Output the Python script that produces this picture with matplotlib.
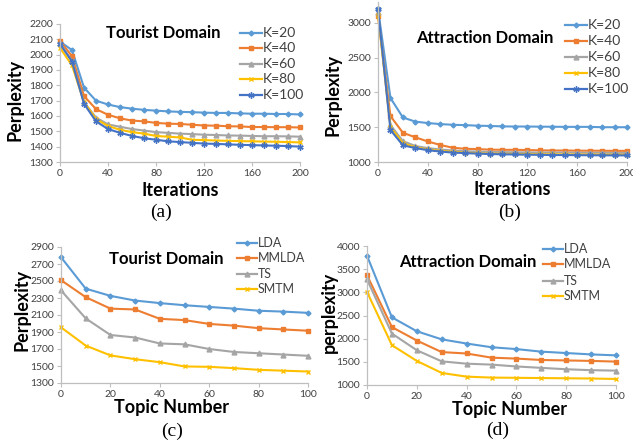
import matplotlib
matplotlib.use("Agg")
import matplotlib.pyplot as plt

plt.rcParams["font.family"] = ["Lato", "DejaVu Sans"]

W, H = 633, 445

iterations = list(range(0, 201, 10))
topics = list(range(0, 101, 10))

k_labels = ["K=20", "K=40", "K=60", "K=80", "K=100"]
tour_k20 = [2085, 2030, 1785, 1700, 1675, 1658, 1648, 1640, 1635, 1630, 1627, 1625, 1622, 1620, 1620, 1617, 1615, 1615, 1613, 1613, 1610]
tour_k40 = [2090, 1990, 1730, 1645, 1608, 1585, 1570, 1565, 1555, 1550, 1548, 1543, 1538, 1537, 1533, 1532, 1528, 1528, 1527, 1527, 1525]
tour_k60 = [2075, 1960, 1690, 1590, 1545, 1530, 1515, 1505, 1495, 1490, 1485, 1482, 1478, 1476, 1473, 1472, 1470, 1468, 1468, 1467, 1465]
tour_k80 = [2045, 1930, 1690, 1580, 1535, 1510, 1495, 1485, 1470, 1465, 1460, 1445, 1443, 1440, 1438, 1436, 1435, 1433, 1432, 1430, 1428]
tour_k100 = [2070, 1955, 1680, 1565, 1515, 1490, 1470, 1455, 1445, 1435, 1430, 1425, 1420, 1418, 1415, 1412, 1410, 1408, 1406, 1404, 1400]

attr_k20 = [3200, 1920, 1640, 1580, 1560, 1545, 1535, 1530, 1522, 1518, 1512, 1510, 1510, 1508, 1507, 1505, 1505, 1505, 1500, 1500, 1500]
attr_k40 = [3100, 1660, 1420, 1355, 1295, 1245, 1205, 1190, 1185, 1178, 1175, 1175, 1172, 1168, 1165, 1165, 1163, 1162, 1162, 1160, 1160]
attr_k60 = [3150, 1530, 1300, 1230, 1200, 1180, 1165, 1155, 1150, 1145, 1142, 1140, 1138, 1136, 1135, 1135, 1133, 1132, 1132, 1130, 1130]
attr_k80 = [3120, 1500, 1270, 1210, 1180, 1160, 1145, 1135, 1125, 1120, 1118, 1115, 1113, 1110, 1110, 1108, 1107, 1106, 1105, 1105, 1103]
attr_k100 = [3200, 1460, 1240, 1200, 1170, 1150, 1135, 1128, 1120, 1115, 1110, 1108, 1105, 1103, 1100, 1100, 1098, 1097, 1096, 1095, 1095]

model_labels = ["LDA", "MMLDA", "TS", "SMTM"]
tour_lda = [2780, 2410, 2325, 2270, 2240, 2215, 2195, 2175, 2150, 2140, 2125]
tour_mmlda = [2510, 2310, 2175, 2165, 2055, 2040, 1995, 1975, 1945, 1930, 1915]
tour_ts = [2390, 2060, 1865, 1835, 1765, 1755, 1700, 1665, 1650, 1635, 1620]
tour_smtm = [1955, 1740, 1625, 1580, 1545, 1495, 1490, 1475, 1455, 1445, 1435]

attr_lda = [3790, 2460, 2160, 1985, 1895, 1815, 1775, 1720, 1690, 1660, 1640]
attr_mmlda = [3370, 2250, 1960, 1710, 1680, 1590, 1570, 1540, 1530, 1520, 1505]
attr_ts = [3280, 2110, 1750, 1510, 1460, 1440, 1400, 1370, 1340, 1320, 1310]
attr_smtm = [3010, 1860, 1520, 1260, 1180, 1160, 1155, 1150, 1145, 1140, 1130]

BLUE, ORANGE, GRAY, YELLOW, DBLUE = "#5B9BD5", "#ED7D31", "#A5A5A5", "#FFC000", "#4472C4"
k_colors = [BLUE, ORANGE, GRAY, YELLOW, DBLUE]
k_markers = ["D", "s", "^", "x", (6, 2, 0)]
k_msizes = [2.5, 3.5, 3.5, 3.5, 4.5]

fig = plt.figure(figsize=(W / 100, H / 100), dpi=100)
fig.patch.set_facecolor("white")


def px_axes(l, r, t, b):
    return fig.add_axes([l / W, 1 - b / H, (r - l) / W, (b - t) / H])


def fx(x):
    return x / W


def fy(y):
    return 1 - y / H


def style(ax):
    for s in ["top", "right"]:
        ax.spines[s].set_visible(False)
    for s in ["left", "bottom"]:
        ax.spines[s].set_color("#BFBFBF")
        ax.spines[s].set_linewidth(0.9)
    ax.tick_params(axis="both", length=3, width=0.8, color="#BFBFBF", labelsize=7.5,
                   labelcolor="#404040", pad=2)


def legend(labels, colors, markers, msizes, x0, ys, fs=10, linelen=22):
    for lab, c, m, ms, y in zip(labels, colors, markers, msizes, ys):
        fig.add_artist(plt.Line2D([fx(x0), fx(x0 + linelen)], [fy(y), fy(y)], color=c, lw=1.6))
        fig.add_artist(plt.Line2D([fx(x0 + linelen / 2)], [fy(y)], color=c, marker=m,
                                  markersize=ms, markeredgewidth=1.0, lw=0))
        fig.text(fx(x0 + linelen + 1), fy(y), lab, fontsize=fs, va="center", ha="left",
                 color="#404040")


def series(ax, xs, ys_list, colors, markers, msizes):
    for vals, c, m, ms in zip(ys_list, colors, markers, msizes):
        ax.plot(xs, vals, color=c, lw=1.5, marker=m, markersize=ms, markeredgewidth=1.0,
                clip_on=False)


LBL = 13

# (a)
ax = px_axes(60, 300, 24, 162)
series(ax, iterations, [tour_k20, tour_k40, tour_k60, tour_k80, tour_k100], k_colors, k_markers, k_msizes)
ax.set_xlim(0, 200)
ax.set_ylim(1300, 2200)
ax.set_xticks(range(0, 201, 40))
ax.set_yticks(range(1300, 2201, 100))
style(ax)
fig.text(fx(163), fy(33), "Tourist Domain", fontsize=12, fontweight="bold", ha="center", va="center")
legend(k_labels, k_colors, k_markers, k_msizes, 240, [33, 48, 64, 79, 95])
fig.text(fx(15), fy(100), "Perplexity", fontsize=LBL, fontweight="bold", rotation=90, ha="center", va="center")
fig.text(fx(180), fy(191), "Iterations", fontsize=LBL, fontweight="bold", ha="center", va="center")
fig.text(fx(161), fy(212), "(a)", fontsize=14, family="Liberation Serif", ha="center", va="center")

# (b)
ax = px_axes(378, 627, 2, 162)
series(ax, iterations, [attr_k20, attr_k40, attr_k60, attr_k80, attr_k100], k_colors, k_markers, k_msizes)
ax.set_xlim(0, 200)
ax.set_ylim(1000, 3300)
ax.set_xticks(range(0, 201, 40))
ax.set_yticks(range(1000, 3001, 500))
style(ax)
fig.text(fx(485), fy(38), "Attraction Domain", fontsize=12, fontweight="bold", ha="center", va="center")
legend(k_labels, k_colors, k_markers, k_msizes, 565, [25, 41, 57, 73, 89])
fig.text(fx(333), fy(95), "Perplexity", fontsize=LBL, fontweight="bold", rotation=90, ha="center", va="center")
fig.text(fx(512), fy(190), "Iterations", fontsize=LBL, fontweight="bold", ha="center", va="center")
fig.text(fx(510), fy(212), "(b)", fontsize=14, family="Liberation Serif", ha="center", va="center")

m_colors = [BLUE, ORANGE, GRAY, YELLOW]
m_markers = ["D", "s", "^", "x"]
m_msizes = [2.5, 3.5, 3.5, 3.5]

# (c)
ax = px_axes(61, 308, 247, 383)
series(ax, topics, [tour_lda, tour_mmlda, tour_ts, tour_smtm], m_colors, m_markers, m_msizes)
ax.set_xlim(0, 100)
ax.set_ylim(1300, 2900)
ax.set_xticks(range(0, 101, 20))
ax.set_yticks(range(1300, 2901, 200))
style(ax)
fig.text(fx(166), fy(259), "Tourist Domain", fontsize=12, fontweight="bold", ha="center", va="center")
legend(model_labels, m_colors, m_markers, m_msizes, 237, [243, 258, 274, 289], fs=9, linelen=20)
fig.text(fx(22), fy(310), "Perplexity", fontsize=LBL, fontweight="bold", rotation=90, ha="center", va="center")
fig.text(fx(172), fy(408), "Topic Number", fontsize=LBL, fontweight="bold", ha="center", va="center")
fig.text(fx(172), fy(431), "(c)", fontsize=14, family="Liberation Serif", ha="center", va="center")

# (d)
ax = px_axes(367, 616, 246, 385)
series(ax, topics, [attr_lda, attr_mmlda, attr_ts, attr_smtm], m_colors, m_markers, m_msizes)
ax.set_xlim(0, 100)
ax.set_ylim(1000, 4000)
ax.set_xticks(range(0, 101, 20))
ax.set_yticks(range(1000, 4001, 500))
style(ax)
fig.text(fx(468), fy(262), "Attraction Domain", fontsize=12, fontweight="bold", ha="center", va="center")
legend(model_labels, m_colors, m_markers, m_msizes, 543, [249, 264, 281, 296], fs=9, linelen=20)
fig.text(fx(329), fy(312), "perplexity", fontsize=LBL, fontweight="bold", rotation=90, ha="center", va="center")
fig.text(fx(510), fy(410), "Topic Number", fontsize=LBL, fontweight="bold", ha="center", va="center")
fig.text(fx(498), fy(430), "(d)", fontsize=14, family="Liberation Serif", ha="center", va="center")

fig.savefig("out.png", dpi=100, facecolor="white")
